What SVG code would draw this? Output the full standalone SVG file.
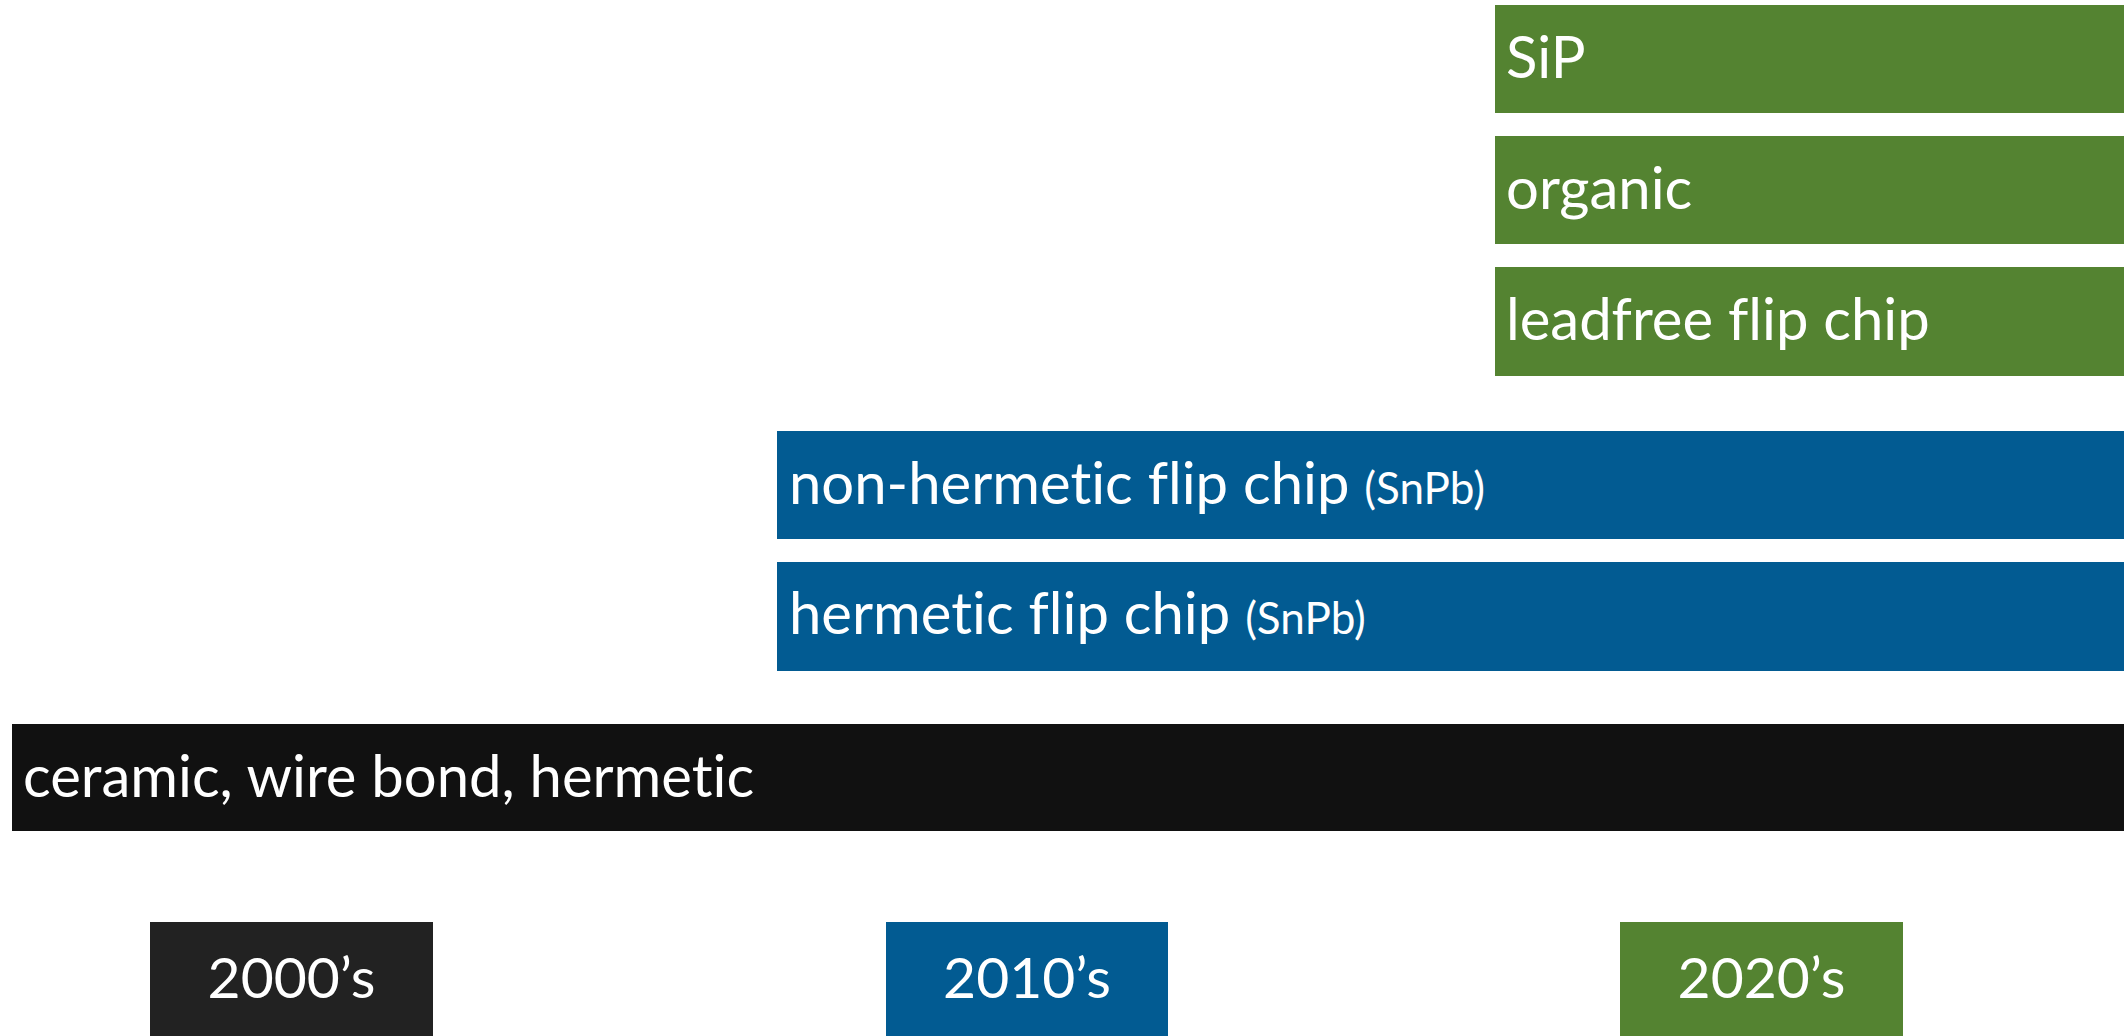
<svg xmlns="http://www.w3.org/2000/svg" width="2126" height="1036" viewBox="0 0 2126 1036">
<style>
.g{fill:#548331}
.b{fill:#025B92}
.k{fill:#111111}
.y0{fill:#222222}
.t{font-family:Lato,"Liberation Sans",sans-serif;font-size:58px;fill:#ffffff;font-variant-ligatures:no-common-ligatures}
.s{font-size:44px}
.c{text-anchor:middle;font-size:57px}
</style>
<rect width="2126" height="1036" fill="#ffffff"/>
<g id="sip"><rect class="g" x="1495" y="5" width="629" height="108"/><text class="t" x="1506" y="78">SiP</text></g>
<g id="organic"><rect class="g" x="1495" y="136" width="629" height="108"/><text class="t" x="1506" y="209">organic</text></g>
<g id="leadfree"><rect class="g" x="1495" y="267" width="629" height="109"/><text class="t" x="1506" y="340">leadfree flip chip</text></g>
<g id="nonhermetic"><rect class="b" x="777" y="431" width="1347" height="108"/><text class="t" x="789" y="504">non-hermetic flip chip <tspan class="s">(SnPb)</tspan></text></g>
<g id="hermetic"><rect class="b" x="777" y="562" width="1347" height="109"/><text class="t" x="789" y="634">hermetic flip chip <tspan class="s">(SnPb)</tspan></text></g>
<g id="ceramic"><rect class="k" x="12" y="724" width="2112" height="107"/><text class="t" x="23" y="797">ceramic, wire bond, hermetic</text></g>
<g id="y2000"><rect class="y0" x="150" y="922" width="283" height="114"/><text class="t c" x="291.5" y="998">2000’s</text></g>
<g id="y2010"><rect class="b" x="886" y="922" width="282" height="114"/><text class="t c" x="1027" y="998">2010’s</text></g>
<g id="y2020"><rect class="g" x="1620" y="922" width="283" height="114"/><text class="t c" x="1761.5" y="998">2020’s</text></g>
<g id="connectors"></g>
</svg>
